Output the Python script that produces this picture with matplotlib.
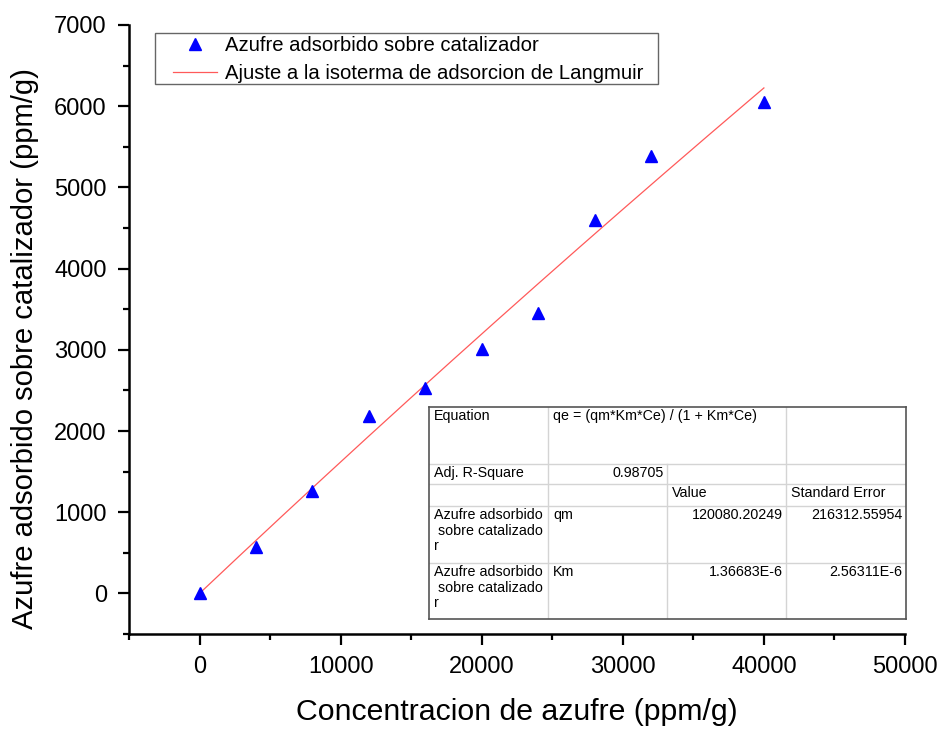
import numpy as np
import matplotlib
matplotlib.use('Agg')
import matplotlib.pyplot as plt
from matplotlib.ticker import MultipleLocator
from matplotlib.patches import Rectangle

plt.rcParams['font.family'] = ['Liberation Sans', 'DejaVu Sans']

# data
conc = [0, 4000, 8000, 12000, 16000, 20000, 24000, 28000, 32000, 40000]
qe_obs = [0, 570, 1265, 2190, 2535, 3010, 3455, 4595, 5385, 6050]

# Langmuir fit parameters (from the table on the chart)
qm = 120080.20249
km = 1.36683e-6
adj_r2 = '0.98705'

ce_fit = np.linspace(0, 40000, 200)
qe_fit = qm * km * ce_fit / (1 + km * ce_fit)

W, H = 940, 729
fig = plt.figure(figsize=(W / 100, H / 100), dpi=100)
ax = fig.add_axes([129 / W, (H - 634) / H, (905 - 129) / W, (634 - 25) / H])

ax.plot(conc, qe_obs, '^', color='#0000ff', ms=8.5, mec='#0000ff',
        label='Azufre adsorbido sobre catalizador', zorder=3)
ax.plot(ce_fit, qe_fit, '-', color='#ff5a5a', lw=0.9,
        label='Ajuste a la isoterma de adsorcion de Langmuir', zorder=2)

ax.set_xlim(-5000, 50000)
ax.set_ylim(-500, 7000)
ax.xaxis.set_major_locator(MultipleLocator(10000))
ax.xaxis.set_minor_locator(MultipleLocator(5000))
ax.yaxis.set_major_locator(MultipleLocator(1000))
ax.yaxis.set_minor_locator(MultipleLocator(500))

for s in ['top', 'right']:
    ax.spines[s].set_visible(False)
for s in ['left', 'bottom']:
    ax.spines[s].set_linewidth(1.8)

ax.tick_params(which='major', direction='out', length=8, width=1.6, labelsize=17, pad=8)
ax.tick_params(which='minor', direction='out', length=4, width=1.6)

ax.set_xlabel('Concentracion de azufre (ppm/g)', fontsize=21.8, labelpad=14)
ax.set_ylabel('Azufre adsorbido sobre catalizador (ppm/g)', fontsize=21.1)
ax.yaxis.set_label_coords(-0.116, 0.468)

# legend: frameless, with a hand-placed box around it
leg = ax.legend(loc='upper left', bbox_to_anchor=(173 / W, 1 - 36 / H),
                bbox_transform=fig.transFigure, fontsize=14.6, frameon=False,
                borderpad=0, handlelength=2.15, handletextpad=0.4,
                labelspacing=0.45, borderaxespad=0)
fig.patches.append(Rectangle((155 / W, 1 - 84 / H), (658 - 155) / W, (84 - 33) / H,
                             transform=fig.transFigure, fill=False,
                             edgecolor='#666666', lw=1.0, zorder=5))

# fit results table, drawn in its own axes (pixel units)
tx0, ty0, tw, th = 429, 407, 477, 212
tax = fig.add_axes([tx0 / W, (H - ty0 - th) / H, tw / W, th / H])
tax.set_xlim(0, tw)
tax.set_ylim(th, 0)
tax.set_facecolor('white')
for s in tax.spines.values():
    s.set_color('#555555')
    s.set_linewidth(1.2)
tax.set_xticks([])
tax.set_yticks([])

cols = [0, 119, 238, 357, tw]
rows = [0, 57, 77, 99, 156, th]
grid_c = '#d4d4d4'
for y in rows[1:-1]:
    tax.plot([0, tw], [y, y], color=grid_c, lw=1)
tax.plot([cols[1], cols[1]], [0, th], color=grid_c, lw=1)
tax.plot([cols[2], cols[2]], [rows[1], th], color=grid_c, lw=1)
tax.plot([cols[3], cols[3]], [0, th], color=grid_c, lw=1)

fs = 10.3
def cell(x, y, s, ha='left'):
    tax.text(x, y, s, ha=ha, va='top', fontsize=fs, linespacing=1.15)

name = 'Azufre adsorbido\n sobre catalizado\nr'
cell(5, 2, 'Equation')
cell(cols[1] + 5, 2, 'qe = (qm*Km*Ce) / (1 + Km*Ce)')
cell(5, rows[1] + 2, 'Adj. R-Square')
cell(cols[2] - 3, rows[1] + 2, adj_r2, ha='right')
cell(cols[2] + 5, rows[2] + 2, 'Value')
cell(cols[3] + 5, rows[2] + 2, 'Standard Error')
cell(5, rows[3] + 2, name)
cell(cols[1] + 5, rows[3] + 2, 'qm')
cell(cols[3] - 3, rows[3] + 2, '120080.20249', ha='right')
cell(tw - 4, rows[3] + 2, '216312.55954', ha='right')
cell(5, rows[4] + 2, name)
cell(cols[1] + 5, rows[4] + 2, 'Km')
cell(cols[3] - 3, rows[4] + 2, '1.36683E-6', ha='right')
cell(tw - 4, rows[4] + 2, '2.56311E-6', ha='right')

fig.savefig('out.png', dpi=100)
